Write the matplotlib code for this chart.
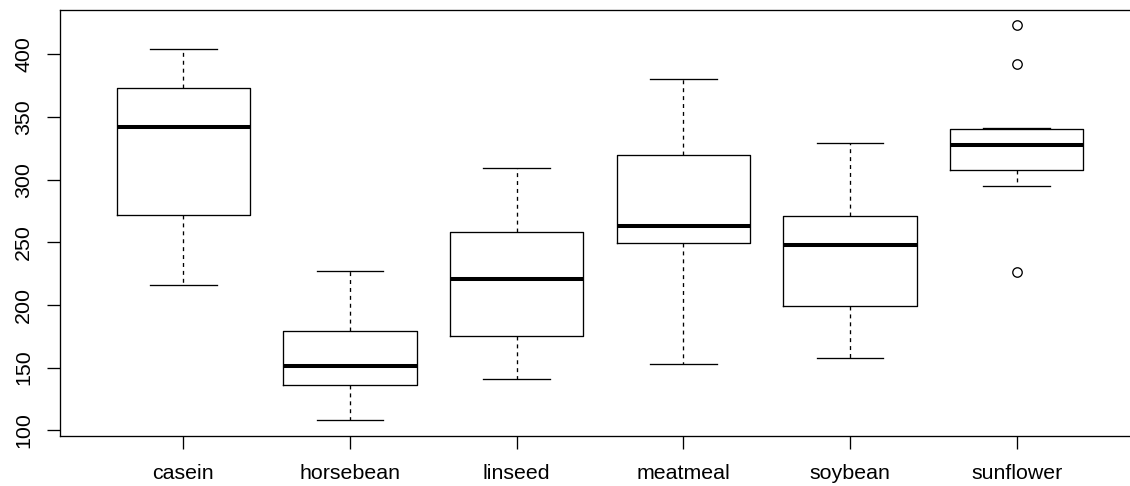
import numpy as np
import matplotlib
matplotlib.use("Agg")
import matplotlib.pyplot as plt

plt.rcParams['font.family'] = ['Liberation Sans', 'DejaVu Sans']
plt.rcParams['savefig.bbox'] = 'standard'

# chick weights by feed supplement
feeds = ["casein", "horsebean", "linseed", "meatmeal", "soybean", "sunflower"]
casein = [368, 390, 379, 260, 404, 318, 352, 359, 216, 222, 283, 332]
horsebean = [179, 160, 136, 227, 217, 168, 108, 124, 143, 140]
linseed = [309, 229, 181, 141, 260, 203, 148, 169, 213, 257, 244, 271]
meatmeal = [325, 257, 303, 315, 380, 153, 263, 242, 206, 344, 258]
soybean = [243, 230, 248, 327, 329, 250, 193, 271, 316, 267, 199, 171, 158, 248]
sunflower = [423, 340, 392, 339, 341, 226, 320, 295, 334, 322, 297, 318]
yticks = [100, 150, 200, 250, 300, 350, 400]


def fivenum(x):
    x = np.sort(np.asarray(x, dtype=float))
    n = len(x)
    n4 = np.floor((n + 3) / 2) / 2
    d = np.array([1, n4, (n + 1) / 2, n + 1 - n4, n])
    return 0.5 * (x[np.floor(d).astype(int) - 1] + x[np.ceil(d).astype(int) - 1])


def box_stats(x, label, coef=1.5):
    x = np.asarray(x, dtype=float)
    lo, q1, med, q3, hi = fivenum(x)
    iqr = q3 - q1
    inside = x[(x >= q1 - coef * iqr) & (x <= q3 + coef * iqr)]
    return dict(label=label, med=med, q1=q1, q3=q3,
                whislo=inside.min(), whishi=inside.max(),
                fliers=x[(x < inside.min()) | (x > inside.max())])


groups = [casein, horsebean, linseed, meatmeal, soybean, sunflower]
stats = [box_stats(g, name) for g, name in zip(groups, feeds)]

lw = 0.95
fig = plt.figure(figsize=(11.3, 4.86), dpi=100)
# plot region runs off the right edge, so stop the axes at the edge
ax = fig.add_axes([60 / 1130, 50 / 486, 1070 / 1130, 426.3 / 486])

ax.bxp(stats, positions=range(1, 7), widths=0.8,
       boxprops=dict(color="black", linewidth=lw),
       medianprops=dict(color="black", linewidth=2.9, solid_capstyle="butt"),
       whiskerprops=dict(color="black", linewidth=lw, linestyle=(0, (3, 3))),
       capprops=dict(color="black", linewidth=lw),
       capwidths=0.4,
       flierprops=dict(marker="o", markerfacecolor="none", markeredgecolor="black",
                       markersize=6.8, markeredgewidth=lw))

ax.set_xlim(0.26, 6.68)
ax.set_ylim(95.4, 435.6)
ax.set_yticks(yticks)
ax.set_yticklabels([str(v) for v in yticks], rotation=90, va="center")
ax.set_xticks(range(1, 7))
ax.set_xticklabels(feeds)
ax.tick_params(axis="both", length=9.4, width=lw, labelsize=15.4, color="black")
ax.tick_params(axis="y", pad=10)
ax.tick_params(axis="x", pad=11)
for s in ax.spines.values():
    s.set_linewidth(lw)
    s.set_color("black")
ax.spines["right"].set_visible(False)

fig.savefig("out.png", dpi=100, bbox_inches=None)
